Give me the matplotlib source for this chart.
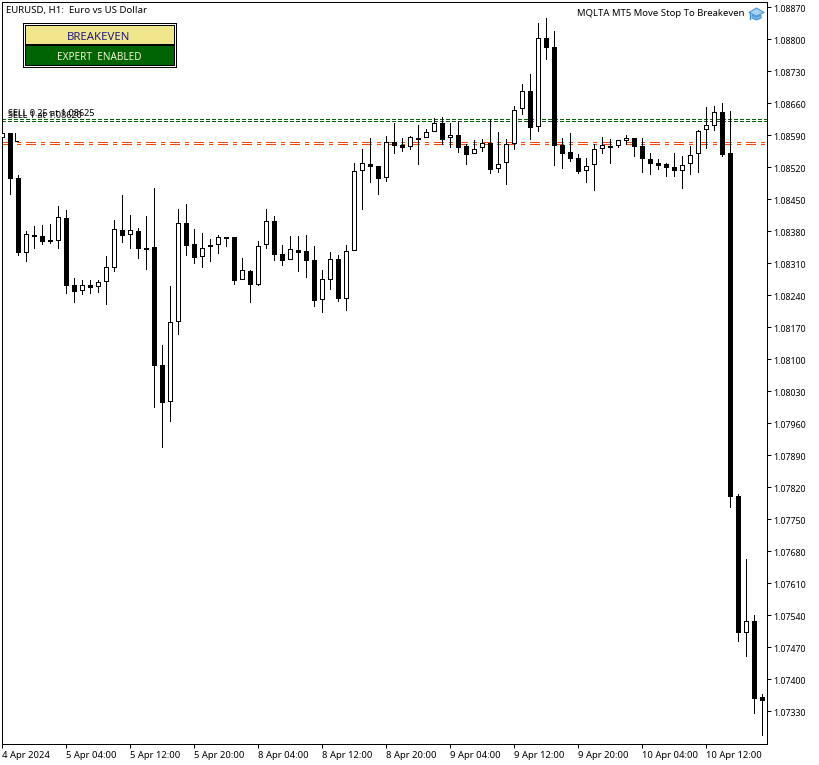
import matplotlib
matplotlib.use("Agg")
import matplotlib.pyplot as plt
from matplotlib.patches import Rectangle, Polygon
from matplotlib.lines import Line2D
from matplotlib.transforms import ScaledTranslation

W, H = 820, 765
FONT = "Noto Sans"
plt.rcParams["font.family"] = [FONT, "DejaVu Sans"]

# open, high, low, close per hourly bar
opens = [1.08586,1.08594,1.08496,1.08334,1.08371,1.08369,1.08360,1.08360,1.08408,1.08262,1.08251,1.08262,1.08260,1.08271,1.08301,1.08382,
1.08373,1.08380,1.08343,1.08345,1.08087,1.08008,1.08183,1.08398,1.08352,1.08325,1.08347,1.08352,1.08365,1.08367,1.08275,1.08293,
1.08264,1.08352,1.08402,1.08330,1.08319,1.08339,1.08336,1.08317,1.08231,1.08275,1.08319,1.08233,1.08339,1.08513,1.08527,1.08522,
1.08498,1.08575,1.08568,1.08566,1.08581,1.08586,1.08599,1.08616,1.08586,1.08590,1.08566,1.08551,1.08564,1.08573,1.08518,1.08531,
1.08573,1.08649,1.08686,1.08610,1.08802,1.08783,1.08568,1.08553,1.08540,1.08513,1.08527,1.08562,1.08566,1.08568,1.08579,1.08583,
1.08566,1.08538,1.08529,1.08527,1.08520,1.08513,1.08529,1.08551,1.08603,1.08612,1.08640,1.08551,1.07800,1.07503,1.07527,1.07361]
highs = [1.08594,1.08594,1.08503,1.08380,1.08391,1.08393,1.08395,1.08435,1.08426,1.08277,1.08273,1.08273,1.08273,1.08325,1.08404,1.08459,
1.08415,1.08387,1.08413,1.08474,1.08131,1.08260,1.08428,1.08439,1.08384,1.08376,1.08363,1.08371,1.08367,1.08367,1.08321,1.08295,
1.08358,1.08428,1.08413,1.08349,1.08369,1.08369,1.08371,1.08347,1.08295,1.08334,1.08328,1.08349,1.08529,1.08559,1.08583,1.08522,
1.08588,1.08616,1.08583,1.08588,1.08612,1.08603,1.08627,1.08629,1.08616,1.08621,1.08570,1.08579,1.08581,1.08623,1.08597,1.08581,
1.08653,1.08702,1.08723,1.08835,1.08846,1.08818,1.08583,1.08594,1.08548,1.08540,1.08570,1.08586,1.08581,1.08579,1.08590,1.08583,
1.08583,1.08551,1.08538,1.08529,1.08551,1.08544,1.08566,1.08601,1.08651,1.08653,1.08660,1.08643,1.07805,1.07663,1.07540,1.07367]
lows = [1.08586,1.08461,1.08328,1.08314,1.08343,1.08352,1.08354,1.08343,1.08244,1.08225,1.08242,1.08244,1.08247,1.08220,1.08293,1.08356,
1.08343,1.08321,1.08297,1.07995,1.07908,1.07964,1.08155,1.08328,1.08310,1.08301,1.08314,1.08332,1.08347,1.08264,1.08275,1.08225,
1.08262,1.08343,1.08317,1.08306,1.08319,1.08293,1.08279,1.08216,1.08203,1.08253,1.08227,1.08207,1.08339,1.08428,1.08487,1.08461,
1.08489,1.08551,1.08555,1.08559,1.08527,1.08586,1.08599,1.08570,1.08564,1.08553,1.08527,1.08551,1.08555,1.08507,1.08509,1.08483,
1.08559,1.08636,1.08581,1.08599,1.08756,1.08524,1.08518,1.08533,1.08507,1.08487,1.08470,1.08551,1.08529,1.08564,1.08570,1.08544,
1.08509,1.08505,1.08516,1.08500,1.08500,1.08474,1.08505,1.08509,1.08562,1.08601,1.08544,1.07776,1.07483,1.07450,1.07326,1.07278]
closes = [1.08594,1.08496,1.08334,1.08373,1.08369,1.08358,1.08358,1.08411,1.08262,1.08249,1.08262,1.08258,1.08268,1.08301,1.08384,1.08371,
1.08382,1.08343,1.08341,1.08087,1.08006,1.08181,1.08398,1.08349,1.08323,1.08343,1.08349,1.08367,1.08367,1.08273,1.08295,1.08264,
1.08347,1.08402,1.08330,1.08317,1.08341,1.08334,1.08317,1.08229,1.08275,1.08319,1.08233,1.08336,1.08511,1.08529,1.08522,1.08496,
1.08575,1.08568,1.08564,1.08586,1.08583,1.08597,1.08616,1.08581,1.08590,1.08564,1.08548,1.08559,1.08573,1.08516,1.08527,1.08570,
1.08645,1.08686,1.08608,1.08802,1.08783,1.08568,1.08551,1.08540,1.08511,1.08522,1.08559,1.08568,1.08564,1.08579,1.08583,1.08566,
1.08540,1.08529,1.08524,1.08520,1.08513,1.08524,1.08546,1.08599,1.08612,1.08640,1.08548,1.07800,1.07503,1.07527,1.07358,1.07354]

price_ticks = [1.08870,1.08800,1.08730,1.08660,1.08590,1.08520,1.08450,1.08380,1.08310,1.08240,1.08170,1.08100,1.08030,1.07960,
1.07890,1.07820,1.07750,1.07680,1.07610,1.07540,1.07470,1.07400,1.07330]
time_ticks = [0,8,16,24,32,40,48,56,64,72,80,88]
time_labels = ["4 Apr 2024","5 Apr 04:00","5 Apr 12:00","5 Apr 20:00","8 Apr 04:00","8 Apr 12:00","8 Apr 20:00",
"9 Apr 04:00","9 Apr 12:00","9 Apr 20:00","10 Apr 04:00","10 Apr 12:00"]
stop_levels = [1.08625,1.08620]
stop_labels = ["SELL 0.25 at 1.08625","SELL 1 at 1.08620"]
entry_levels = [1.08575,1.08570]

fig = plt.figure(figsize=(W/100, H/100), dpi=100, facecolor="white")
L, R, T, B = 2.0, 767.0, 2.0, 744.0
ax = fig.add_axes([L/W, 1-B/H, (R-L)/W, (B-T)/H])
ax.set_xlim(0, (R-L)/8)
ax.set_ylim(1.0725780, 1.0888094)
ax.set_facecolor("white")
PX = 0.72
for s in ax.spines.values():
    s.set_linewidth(PX)
    s.set_color("black")

ax.yaxis.tick_right()
ax.set_yticks(price_ticks)
ax.set_yticklabels([f"{v:.5f}" for v in price_ticks])
ax.set_xticks(time_ticks)
ax.set_xticklabels(time_labels, ha="left")
ax.tick_params(axis="y", length=2.9, width=PX, pad=1.6, labelsize=6.35)
ax.tick_params(axis="x", length=2.9, width=PX, pad=1.9, labelsize=6.8)
down = ScaledTranslation(0, -1.5/100, fig.dpi_scale_trans)
for t in ax.get_yticklabels():
    t.set_transform(t.get_transform() + down)

# stop and entry level lines
for lv in stop_levels:
    ax.axhline(lv, color="#006400", lw=PX, ls=(0,(3.01,2.01)), antialiased=False, zorder=1)
for lv in entry_levels:
    ax.plot([0, 95.3], [lv, lv], color="#FF4500", lw=PX, ls=(0,(9.01,5.01,3.01,5.01)), antialiased=False, zorder=1, dash_capstyle="butt")

xs = list(range(len(opens)))
ax.vlines(xs, lows, highs, color="black", lw=PX, antialiased=False, zorder=2)
for i, (o, c) in enumerate(zip(opens, closes)):
    up = c >= o
    ax.bar(i, abs(c-o), bottom=min(o, c), width=0.5, facecolor="white" if up else "black",
           edgecolor="black", lw=PX, antialiased=False, zorder=3)

# stop labels, drawn on top of each other as in the terminal
for lab, dy in zip(stop_labels, (0, 0.00004)):
    ax.text(0.75, stop_levels[0]+0.00002-dy, lab, fontsize=6.5, family=FONT, color="black", va="bottom", ha="left", zorder=4)

def fx(x): return x/W
def fy(y): return 1-y/H
def box(x0, y0, x1, y1, fc, ec="black"):
    fig.add_artist(Rectangle((fx(x0), fy(y1)), (x1-x0)/W, (y1-y0)/H, transform=fig.transFigure,
                             facecolor=fc, edgecolor=ec, lw=PX, antialiased=False))

box(23, 23, 176, 67, "white")
box(25, 25, 174, 44, "#F0E68C")
box(25, 45, 174, 65, "#006400")
fig.text(fx(99), fy(37), "BREAKEVEN", color="#1F1A8A", fontsize=8.2, ha="center", va="center")
fig.text(fx(99.5), fy(58), "EXPERT  ENABLED", color="#F5F5DC", fontsize=7.2, ha="center", va="center")
fig.text(fx(6.5), fy(10.3), "EURUSD, H1:  Euro vs US Dollar", color="black", fontsize=6.95, ha="left", va="center")
fig.text(fx(745), fy(14), "MQLTA MT5 Move Stop To Breakeven", color="black", fontsize=6.85, ha="right", va="center")

# graduation cap icon
cap = "#3C8FD0"
fig.add_artist(Polygon([(fx(749),fy(12.5)),(fx(756.5),fy(8)),(fx(764),fy(12.5)),(fx(756.5),fy(16))], closed=True,
                       transform=fig.transFigure, facecolor="#A9D3F0", edgecolor=cap, lw=PX))
fig.add_artist(Polygon([(fx(752),fy(15)),(fx(756.5),fy(17)),(fx(761),fy(15)),(fx(761),fy(18)),(fx(756.5),fy(20)),(fx(752),fy(18))], closed=True,
                       transform=fig.transFigure, facecolor="#7DB8E5", edgecolor=cap, lw=PX))
fig.add_artist(Line2D([fx(750),fx(750)],[fy(13),fy(18.5)], transform=fig.transFigure, color=cap, lw=PX*1.4))

# small entry marker beside the first bars
fig.add_artist(Line2D([fx(15),fx(15),fx(18)],[fy(133),fy(141),fy(141)], transform=fig.transFigure,
                      color="black", lw=PX, antialiased=False))

fig.savefig("out.png", dpi=100)
